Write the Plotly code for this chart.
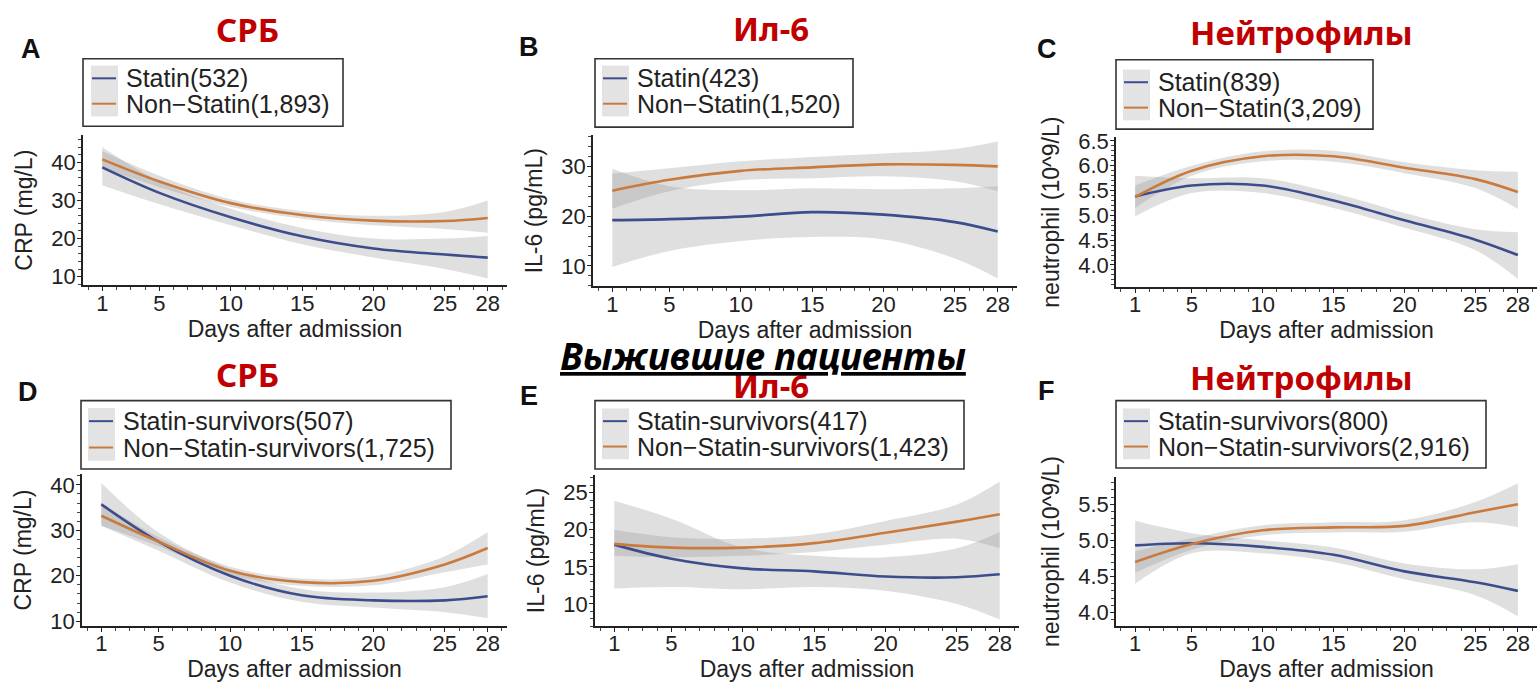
import plotly.graph_objects as go

W, H = 1540, 687

days = [1, 5, 10, 15, 20, 25, 28]
tick_days = [1, 5, 10, 15, 20, 25, 28]

# ---- Panel A: CRP (all patients)
a_statin = [38.7, 32.0, 25.6, 20.6, 17.4, 15.8, 15.0]
a_statin_lo = [34.0, 29.0, 23.5, 18.5, 15.0, 12.0, 9.5]
a_statin_hi = [44.0, 35.0, 27.8, 22.8, 20.0, 20.0, 20.7]
a_non = [40.8, 35.0, 29.3, 26.2, 24.7, 24.6, 25.4]
a_non_lo = [38.5, 33.5, 28.3, 25.2, 23.5, 22.5, 21.5]
a_non_hi = [43.0, 36.5, 30.3, 27.2, 26.0, 27.0, 30.0]

# ---- Panel B: IL-6 (all patients)
b_statin = [19.2, 19.4, 19.9, 20.8, 20.3, 18.8, 16.9]
b_statin_lo = [9.8, 13.0, 15.0, 15.8, 15.3, 11.5, 7.5]
b_statin_hi = [29.5, 26.0, 25.2, 25.6, 25.4, 25.6, 26.0]
b_non = [25.1, 27.3, 29.1, 29.8, 30.4, 30.3, 30.0]
b_non_lo = [21.5, 25.0, 27.2, 27.6, 28.0, 27.0, 25.0]
b_non_hi = [28.5, 29.6, 31.0, 31.9, 32.6, 33.5, 35.0]

# ---- Panel C: neutrophil (all patients)
c_statin = [5.38, 5.60, 5.60, 5.30, 4.90, 4.51, 4.20]
c_statin_lo = [4.98, 5.45, 5.45, 5.15, 4.75, 4.30, 3.72]
c_statin_hi = [5.80, 5.75, 5.75, 5.45, 5.05, 4.72, 4.66]
c_non = [5.37, 5.90, 6.19, 6.19, 5.96, 5.73, 5.47]
c_non_lo = [5.15, 5.80, 6.09, 6.08, 5.85, 5.55, 5.13]
c_non_hi = [5.60, 6.00, 6.29, 6.30, 6.07, 5.91, 5.88]

# ---- Panel D: CRP (survivors)
d_statin = [35.7, 27.5, 20.0, 15.7, 14.6, 14.6, 15.5]
d_statin_lo = [31.0, 25.5, 18.5, 14.3, 13.0, 12.0, 10.7]
d_statin_hi = [40.4, 29.5, 21.5, 17.1, 16.3, 17.5, 20.4]
d_non = [33.2, 27.5, 21.1, 18.6, 18.9, 22.5, 26.1]
d_non_lo = [31.0, 26.5, 20.2, 17.8, 17.9, 20.8, 22.5]
d_non_hi = [36.0, 28.5, 22.0, 19.4, 19.9, 24.3, 29.6]

# ---- Panel E: IL-6 (survivors)
e_statin = [18.0, 16.1, 14.8, 14.4, 13.7, 13.6, 14.0]
e_statin_lo = [12.1, 12.3, 12.0, 12.3, 11.8, 10.0, 7.9]
e_statin_hi = [23.9, 21.5, 17.6, 16.5, 16.3, 17.5, 19.7]
e_non = [18.1, 17.6, 17.6, 18.2, 19.6, 21.1, 22.1]
e_non_lo = [16.5, 16.3, 16.5, 17.0, 18.0, 18.8, 17.5]
e_non_hi = [20.0, 19.0, 18.8, 19.4, 21.2, 23.4, 26.5]

# ---- Panel F: neutrophil (survivors)
f_statin = [4.93, 4.96, 4.91, 4.80, 4.57, 4.42, 4.30]
f_statin_lo = [4.40, 4.82, 4.82, 4.70, 4.46, 4.24, 3.95]
f_statin_hi = [5.27, 5.10, 5.00, 4.90, 4.68, 4.60, 4.67]
f_non = [4.70, 4.95, 5.14, 5.18, 5.20, 5.39, 5.50]
f_non_lo = [4.55, 4.87, 5.07, 5.11, 5.12, 5.25, 5.18]
f_non_hi = [4.85, 5.03, 5.21, 5.25, 5.28, 5.53, 5.79]

panels = [
    dict(letter="A", title="<b>СРБ</b>", ytitle="CRP (mg/L)",
         s=(a_statin, a_statin_lo, a_statin_hi), n=(a_non, a_non_lo, a_non_hi),
         names=("Statin(532)", "Non\u2212Statin(1,893)"),
         yticks=[10, 20, 30, 40], ytext=["10", "20", "30", "40"], yrange=[7.7, 47.2], yminor=2,
         box=(83, 507, 130, 284), leg=(83, 52, 343, 121, 124, 72, 98), ttl=(247, 22), let=(31, 42)),
    dict(letter="B", title="<b>Ил-6</b>", ytitle="IL-6 (pg/mL)",
         s=(b_statin, b_statin_lo, b_statin_hi), n=(b_non, b_non_lo, b_non_hi),
         names=("Statin(423)", "Non\u2212Statin(1,520)"),
         yticks=[10, 20, 30], ytext=["10", "20", "30"], yrange=[5.9, 36.3], yminor=2,
         box=(593, 1017, 130, 285), leg=(595, 52, 853, 122, 635, 72, 98), ttl=(771, 21), let=(529, 40)),
    dict(letter="C", title="<b>Нейтрофилы</b>", ytitle="neutrophil (10^9/L)",
         s=(c_statin, c_statin_lo, c_statin_hi), n=(c_non, c_non_lo, c_non_hi),
         names=("Statin(839)", "Non\u2212Statin(3,209)"),
         yticks=[4.0, 4.5, 5.0, 5.5, 6.0, 6.5], ytext=["4.0", "4.5", "5.0", "5.5", "6.0", "6.5"],
         yrange=[3.55, 6.58], yminor=0.1,
         box=(1116, 1537, 132, 286), leg=(1116, 53, 1373, 124, 1156, 76, 102), ttl=(1301, 25), let=(1047, 42)),
    dict(letter="D", title="<b>СРБ</b>", ytitle="CRP (mg/L)",
         s=(d_statin, d_statin_lo, d_statin_hi), n=(d_non, d_non_lo, d_non_hi),
         names=("Statin-survivors(507)", "Non\u2212Statin-survivors(1,725)"),
         yticks=[10, 20, 30, 40], ytext=["10", "20", "30", "40"], yrange=[8.9, 42.4], yminor=2,
         box=(82, 507, 477, 633), leg=(81, 402, 451, 472, 121, 423, 450), ttl=(247, 375), let=(28, 393)),
    dict(letter="E", title="<b>Ил-6</b>", ytitle="IL-6 (pg/mL)",
         s=(e_statin, e_statin_lo, e_statin_hi), n=(e_non, e_non_lo, e_non_hi),
         names=("Statin-survivors(417)", "Non\u2212Statin-survivors(1,423)"),
         yticks=[10, 15, 20, 25], ytext=["10", "15", "20", "25"], yrange=[7.0, 27.4], yminor=1,
         box=(595, 1019, 478, 633), leg=(595, 402, 964, 472, 635, 423, 449), ttl=(771, 387), let=(529, 397)),
    dict(letter="F", title="<b>Нейтрофилы</b>", ytitle="neutrophil (10^9/L)",
         s=(f_statin, f_statin_lo, f_statin_hi), n=(f_non, f_non_lo, f_non_hi),
         names=("Statin-survivors(800)", "Non\u2212Statin-survivors(2,916)"),
         yticks=[4.0, 4.5, 5.0, 5.5], ytext=["4.0", "4.5", "5.0", "5.5"], yrange=[3.81, 5.88], yminor=0.1,
         box=(1116, 1537, 480, 633), leg=(1116, 402, 1486, 471, 1156, 423, 449), ttl=(1301, 378), let=(1046, 392)),
]

BLUE = "#3d4d8c"
ORANGE = "#c97a3c"
BAND = "rgba(150,150,150,0.30)"
FONT = "Liberation Sans, Arial, sans-serif"
TFONT = "Noto Sans, sans-serif"

fig = go.Figure()
annotations = []
shapes = []
layout_axes = {}


def px(x):
    return x / W


def py(y):
    return 1 - y / H


for i, p in enumerate(panels):
    k = "" if i == 0 else str(i + 1)
    xa, ya = "x" + k, "y" + k
    x0, x1, yt, yb = p["box"]
    for (vals, lo, hi), col in ((p["s"], BLUE), (p["n"], ORANGE)):
        fig.add_trace(go.Scatter(x=days, y=hi, xaxis=xa, yaxis=ya, mode="lines",
                                 line=dict(width=0, shape="spline", color=col), showlegend=False,
                                 hoverinfo="skip"))
        fig.add_trace(go.Scatter(x=days, y=lo, xaxis=xa, yaxis=ya, mode="lines", fill="tonexty",
                                 fillcolor=BAND, line=dict(width=0, shape="spline", color=col),
                                 showlegend=False, hoverinfo="skip"))
    for (vals, lo, hi), name, col in ((p["s"], p["names"][0], BLUE), (p["n"], p["names"][1], ORANGE)):
        fig.add_trace(go.Scatter(x=days, y=vals, xaxis=xa, yaxis=ya, mode="lines", name=name,
                                 line=dict(width=2.6, shape="spline", color=col), showlegend=False))

    axis_common = dict(showline=True, linecolor="#222", linewidth=1.5, ticks="outside",
                       ticklen=4, tickwidth=1.3, tickcolor="#222", showgrid=False, zeroline=False,
                       tickfont=dict(family=FONT, size=22, color="#222"))
    layout_axes["xaxis" + k] = dict(
        domain=[px(x0), px(x1)], anchor=ya, range=[-0.35, 29.35],
        tickvals=tick_days, ticktext=[str(d) for d in tick_days], ticklabelstandoff=-7,
        minor=dict(dtick=1, tick0=0, ticks="outside", ticklen=3, tickcolor="#444", tickwidth=1),
        title=dict(text="Days after admission", font=dict(family=FONT, size=23, color="#222"), standoff=1),
        **axis_common)
    layout_axes["yaxis" + k] = dict(
        domain=[py(yb), py(yt)], anchor=xa, range=p["yrange"],
        tickvals=p["yticks"], ticktext=p["ytext"], ticklabelstandoff=-3,
        minor=dict(dtick=p["yminor"], ticks="outside", ticklen=3, tickcolor="#444", tickwidth=1),
        title=dict(text=p["ytitle"], font=dict(family=FONT, size=23, color="#222"), standoff=12),
        **axis_common)

    # legend drawn as a boxed key: border, grey keys with coloured line, text labels
    lx0, ly0, lx1, ly1, tx, iy1, iy2 = p["leg"]
    shapes.append(dict(type="rect", xref="paper", yref="paper", x0=px(lx0), x1=px(lx1),
                       y0=py(ly1), y1=py(ly0), line=dict(color="#333", width=1.6),
                       fillcolor="rgba(0,0,0,0)"))
    half = (iy2 - iy1) / 2
    for iy, name, col in ((iy1, p["names"][0], BLUE), (iy2, p["names"][1], ORANGE)):
        shapes.append(dict(type="rect", xref="paper", yref="paper", x0=px(tx - 33), x1=px(tx - 6),
                           y0=py(iy + half), y1=py(iy - half), line=dict(width=0),
                           fillcolor="rgba(170,170,170,0.33)"))
        shapes.append(dict(type="line", xref="paper", yref="paper", x0=px(tx - 32), x1=px(tx - 8),
                           y0=py(iy), y1=py(iy), line=dict(color=col, width=2, )))
        annotations.append(dict(x=px(tx), y=py(iy), xref="paper", yref="paper", showarrow=False,
                                text=name, xanchor="left", yanchor="middle",
                                font=dict(family=FONT, size=25, color="#222")))

    tx_, ty_ = p["ttl"]
    annotations.append(dict(x=px(tx_), y=py(ty_), xref="paper", yref="paper", showarrow=False,
                            text=p["title"], xanchor="center", yanchor="middle",
                            font=dict(family=TFONT, size=33, color="#c00000")))
    lx, ly = p["let"]
    annotations.append(dict(x=px(lx), y=py(ly), xref="paper", yref="paper", showarrow=False,
                            text="<b>" + p["letter"] + "</b>", xanchor="center", yanchor="middle",
                            font=dict(family=FONT, size=27, color="#111")))

annotations.append(dict(x=px(763), y=py(356), xref="paper", yref="paper", showarrow=False,
                        text="<b><i><u>Выжившие пациенты</u></i></b>", xanchor="center", yanchor="middle",
                        font=dict(family=TFONT, size=37, color="#000")))

fig.update_layout(width=W, height=H, margin=dict(l=0, r=0, t=0, b=0),
                  paper_bgcolor="white", plot_bgcolor="white", showlegend=False,
                  annotations=annotations, shapes=shapes, **layout_axes)

fig.write_html("out.html")
